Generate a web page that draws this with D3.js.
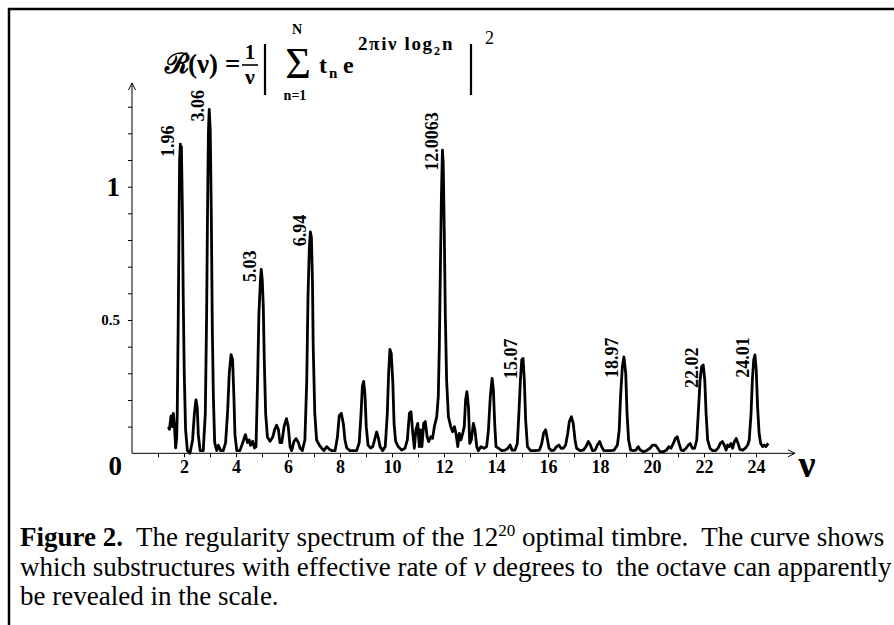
<!DOCTYPE html>
<html lang="en">
<head>
<meta charset="utf-8">
<script src="https://d3js.org/d3.v7.min.js"></script>
<style>
body { margin: 0; background: #fff; }
svg { display: block; }
.serif { font-family: "Liberation Serif", "DejaVu Serif", serif; }
</style>
</head>
<body>
<script>
// curve: nu and R(nu)
var curveNu = [1.40,1.44,1.50,1.55,1.59,1.64,1.68,1.72,1.74,1.78,1.81,1.83,1.86,1.88,1.90,1.94,1.97,2.01,2.06,2.13,
  2.23,2.33,2.40,2.46,2.51,2.55,2.62,2.74,2.82,2.87,2.91,2.94,2.97,3.01,3.05,3.09,3.13,3.18,3.26,3.32,
  3.41,3.51,3.60,3.68,3.74,3.81,3.87,3.92,3.96,4.03,4.15,4.26,4.36,4.44,4.51,4.56,4.64,4.71,4.77,4.83,
  4.88,4.94,4.97,5.01,5.05,5.09,5.14,5.21,5.31,5.41,5.49,5.56,5.63,5.69,5.76,5.85,5.94,6.01,6.08,6.14,
  6.23,6.31,6.40,6.46,6.55,6.65,6.72,6.77,6.82,6.86,6.90,6.94,6.97,7.03,7.10,7.21,7.29,7.38,7.49,7.59,
  7.69,7.81,7.90,7.97,8.05,8.13,8.19,8.26,8.38,8.51,8.64,8.74,8.81,8.86,8.91,8.96,9.01,9.08,9.18,9.26,
  9.33,9.41,9.47,9.54,9.64,9.74,9.82,9.87,9.92,9.97,10.03,10.08,10.14,10.24,10.37,10.50,10.59,10.67,10.73,10.80,
  10.86,10.92,10.99,11.05,11.10,11.15,11.22,11.28,11.35,11.41,11.49,11.56,11.63,11.72,11.78,11.82,11.86,11.90,11.94,11.97,
  12.01,12.05,12.10,12.17,12.26,12.33,12.40,12.46,12.53,12.59,12.65,12.72,12.78,12.83,12.88,12.94,12.99,13.05,13.13,13.19,
  13.26,13.32,13.42,13.54,13.64,13.71,13.78,13.85,13.90,13.95,14.00,14.10,14.22,14.35,14.46,14.54,14.62,14.73,14.82,14.88,
  14.94,14.99,15.04,15.09,15.14,15.21,15.33,15.50,15.67,15.76,15.83,15.91,15.97,16.04,16.14,16.23,16.33,16.42,16.50,16.59,
  16.68,16.76,16.82,16.90,16.97,17.04,17.10,17.23,17.36,17.46,17.55,17.63,17.71,17.81,17.90,17.99,18.06,18.15,18.28,18.41,
  18.54,18.67,18.74,18.79,18.86,18.92,18.99,19.04,19.10,19.18,19.28,19.38,19.47,19.55,19.67,19.79,19.92,20.03,20.13,20.22,
  20.31,20.44,20.56,20.65,20.73,20.82,20.90,20.97,21.04,21.12,21.21,21.31,21.40,21.47,21.55,21.64,21.72,21.78,21.85,21.91,
  21.97,22.03,22.08,22.14,22.23,22.33,22.44,22.54,22.62,22.71,22.78,22.85,22.91,22.97,23.04,23.10,23.17,23.24,23.31,23.38,
  23.49,23.59,23.68,23.74,23.81,23.86,23.91,23.96,24.01,24.06,24.12,24.18,24.26,24.32,24.38,24.47];
var curveR = [0.10,0.09,0.14,0.10,0.15,0.09,0.02,0.06,0.15,0.52,0.87,1.10,1.16,1.07,1.15,0.90,0.59,0.30,0.09,0.01,
  0.00,0.05,0.15,0.20,0.17,0.07,0.01,0.01,0.15,0.52,0.96,1.21,1.29,1.21,0.90,0.46,0.21,0.04,0.01,0.03,
  0.01,0.01,0.04,0.16,0.30,0.37,0.35,0.21,0.07,0.01,0.01,0.04,0.07,0.04,0.05,0.03,0.045,0.02,0.025,0.27,
  0.52,0.65,0.69,0.65,0.55,0.34,0.15,0.06,0.045,0.06,0.09,0.105,0.09,0.04,0.04,0.10,0.13,0.10,0.025,0.01,
  0.045,0.055,0.04,0.02,0.01,0.05,0.27,0.59,0.77,0.83,0.81,0.65,0.40,0.15,0.05,0.03,0.02,0.01,0.025,0.015,
  0.01,0.01,0.06,0.14,0.15,0.11,0.05,0.02,0.01,0.01,0.01,0.04,0.15,0.25,0.27,0.22,0.10,0.03,0.02,0.025,
  0.05,0.08,0.06,0.025,0.01,0.025,0.15,0.30,0.39,0.375,0.27,0.11,0.045,0.025,0.012,0.019,0.05,0.15,0.156,0.075,
  0.019,0.088,0.112,0.025,0.088,0.025,0.112,0.119,0.062,0.044,0.062,0.056,0.10,0.137,0.212,0.40,0.687,0.962,1.137,1.087,
  0.837,0.525,0.275,0.137,0.10,0.081,0.10,0.075,0.025,0.075,0.05,0.075,0.10,0.20,0.231,0.175,0.037,0.05,0.112,0.088,
  0.025,0.01,0.025,0.019,0.025,0.088,0.212,0.281,0.237,0.112,0.025,0.019,0.01,0.012,0.019,0.031,0.012,0.012,0.037,0.15,
  0.275,0.35,0.356,0.275,0.125,0.025,0.01,0.01,0.012,0.037,0.075,0.088,0.056,0.019,0.01,0.012,0.025,0.031,0.019,0.019,
  0.031,0.075,0.119,0.137,0.112,0.05,0.019,0.01,0.012,0.025,0.044,0.031,0.01,0.012,0.031,0.044,0.025,0.01,0.01,0.01,
  0.012,0.031,0.088,0.212,0.325,0.362,0.30,0.15,0.05,0.012,0.01,0.012,0.025,0.012,0.006,0.01,0.019,0.031,0.031,0.019,
  0.006,0.006,0.012,0.025,0.019,0.037,0.056,0.062,0.037,0.012,0.01,0.019,0.031,0.037,0.019,0.019,0.05,0.15,0.275,0.325,
  0.331,0.275,0.15,0.05,0.019,0.01,0.01,0.019,0.037,0.044,0.031,0.012,0.031,0.025,0.037,0.019,0.044,0.056,0.037,0.015,
  0.012,0.019,0.031,0.05,0.15,0.275,0.35,0.369,0.312,0.175,0.075,0.037,0.025,0.031,0.025,0.037];

// peak annotations: text, nu of its centre, R at its lower end
var peakText = ["1.96","3.06","5.03","6.94","12.0063","15.07","18.97","22.02","24.01"];
var peakNu = [1.39,2.54,4.54,6.46,11.53,14.58,18.47,21.53,23.51];
var peakBase = [1.111,1.245,0.643,0.777,1.06,0.279,0.282,0.245,0.283];

var xTicks = d3.range(1, 25);
var yTicks = d3.range(1, 14).map(function(d) { return d / 10; });
var yLabels = {0.5: "0.5", 1: "1"};

var W = 894, H = 625;
var svg = d3.select("body").append("svg")
    .attr("width", W)
    .attr("height", H)
    .attr("class", "serif");

// frame (only top and left show inside the picture)
svg.append("path")
    .attr("d", "M9," + H + "V9H" + W)
    .attr("fill", "none")
    .attr("stroke", "#000")
    .attr("stroke-width", 2.5);

var x = d3.scaleLinear().domain([0, 25]).range([132, 782]);
var y = d3.scaleLinear().domain([0, 1]).range([453.3, 186.7]);

// x axis
var gx = svg.append("g")
    .attr("transform", "translate(0," + y(0) + ")")
    .call(d3.axisBottom(x).tickValues(xTicks).tickSize(4).tickPadding(3)
        .tickFormat(function(d) { return d % 2 === 0 ? d : ""; }));
gx.select(".domain").remove();
gx.selectAll(".tick line").attr("stroke", "#000");
gx.selectAll(".tick text")
    .attr("font-family", "Liberation Serif")
    .attr("font-weight", "bold")
    .attr("font-size", 18)
    .attr("fill", "#000");
svg.append("line")
    .attr("x1", x(0)).attr("x2", 795)
    .attr("y1", y(0)).attr("y2", y(0))
    .attr("stroke", "#000");
svg.append("path")
    .attr("d", "M788," + (y(0) - 3.5) + "L795," + y(0) + "L788," + (y(0) + 3.5))
    .attr("fill", "none").attr("stroke", "#000");

// y axis
var gy = svg.append("g")
    .attr("transform", "translate(" + x(0) + ",0)")
    .call(d3.axisLeft(y).tickValues(yTicks).tickSize(4).tickPadding(8)
        .tickFormat(function(d) { return yLabels[d] || ""; }));
gy.select(".domain").remove();
gy.selectAll(".tick line").attr("stroke", "#000");
gy.selectAll(".tick text")
    .attr("font-family", "Liberation Serif")
    .attr("font-weight", "bold")
    .attr("fill", "#000")
    .attr("font-size", function(d) { return d === 1 ? 27 : 15; });
svg.append("line")
    .attr("x1", x(0)).attr("x2", x(0))
    .attr("y1", y(0)).attr("y2", 83)
    .attr("stroke", "#000");
svg.append("path")
    .attr("d", "M" + (x(0) - 3.5) + ",90L" + x(0) + ",83L" + (x(0) + 3.5) + ",90")
    .attr("fill", "none").attr("stroke", "#000");

svg.append("text")
    .attr("x", 122).attr("y", 475)
    .attr("text-anchor", "end")
    .attr("font-weight", "bold")
    .attr("font-size", 27)
    .text("0");
svg.append("text")
    .attr("x", 807).attr("y", 477)
    .attr("text-anchor", "middle")
    .attr("font-size", 38)
    .attr("font-weight", "bold")
    .text("ν");

// the spectrum
var pts = curveNu.map(function(d, i) { return [d, curveR[i]]; });
svg.append("path")
    .datum(pts)
    .attr("d", d3.line().x(function(d) { return x(d[0]); }).y(function(d) { return y(d[1]); }))
    .attr("fill", "none")
    .attr("stroke", "#000")
    .attr("stroke-width", 2.8)
    .attr("stroke-linejoin", "round");

svg.selectAll(".peak")
    .data(peakText)
    .enter().append("text")
    .attr("class", "peak")
    .attr("transform", function(d, i) {
        return "translate(" + x(peakNu[i]) + "," + y(peakBase[i]) + ") rotate(-90)";
    })
    .attr("dominant-baseline", "central")
    .attr("font-size", 18)
    .attr("font-weight", "bold")
    .text(function(d) { return d; });

// formula
var f = svg.append("g")
    .attr("font-family", "Liberation Serif, DejaVu Serif")
    .attr("font-weight", "bold");
function put(t, px, py, size, opts) {
    var e = f.append("text").attr("x", px).attr("y", py).attr("font-size", size).text(t);
    if (opts) for (var k in opts) e.attr(k, opts[k]);
    return e;
}
function vbar(px) {
    f.append("line").attr("x1", px).attr("x2", px).attr("y1", 44).attr("y2", 95)
        .attr("stroke", "#000").attr("stroke-width", 2.2);
}
put("\u211B", 165, 73, 28, {"font-family": "DejaVu Serif"});
put("(\u03BD)", 188, 73, 27);
put("=", 225, 73, 27);
put("1", 250, 59, 20, {"text-anchor": "middle"});
f.append("line").attr("x1", 242).attr("x2", 258).attr("y1", 65).attr("y2", 65)
    .attr("stroke", "#000").attr("stroke-width", 1.6);
put("\u03BD", 250, 84, 22, {"text-anchor": "middle"});
vbar(265);
put("\u03A3", 298, 78, 44, {"text-anchor": "middle", "font-weight": "normal"});
put("N", 297, 34, 14, {"text-anchor": "middle"});
put("n=1", 295, 100, 14, {"text-anchor": "middle"});
put("t", 319, 73, 24);
put("n", 329, 78, 15);
put("e", 343, 73, 24);
put("2\u03C0i\u03BD log", 358, 50, 19, {"textLength": 74, "lengthAdjust": "spacing"});
put("2", 434, 55, 12);
put("n", 442, 50, 19);
vbar(471);
put("2", 485, 44, 18, {"font-weight": "normal"});

// caption
var cap = svg.append("g").attr("font-family", "Liberation Serif").attr("font-size", 27);
var l1 = cap.append("text").attr("x", 20).attr("y", 546);
l1.append("tspan").attr("font-weight", "bold").text("Figure 2.");
l1.append("tspan").text("\u00A0 The regularity spectrum of the 12");
l1.append("tspan").attr("font-size", 17).attr("dy", -10).text("20");
l1.append("tspan").attr("dy", 10).text(" optimal timbre.\u00A0 The curve shows");
var l2 = cap.append("text").attr("x", 20).attr("y", 576);
l2.append("tspan").text("which substructures with effective rate of ");
l2.append("tspan").attr("font-style", "italic").text("\u03BD");
l2.append("tspan").text(" degrees to\u00A0 the octave can apparently");
cap.append("text").attr("x", 20).attr("y", 605).text("be revealed in the scale.");
</script>
</body>
</html>
